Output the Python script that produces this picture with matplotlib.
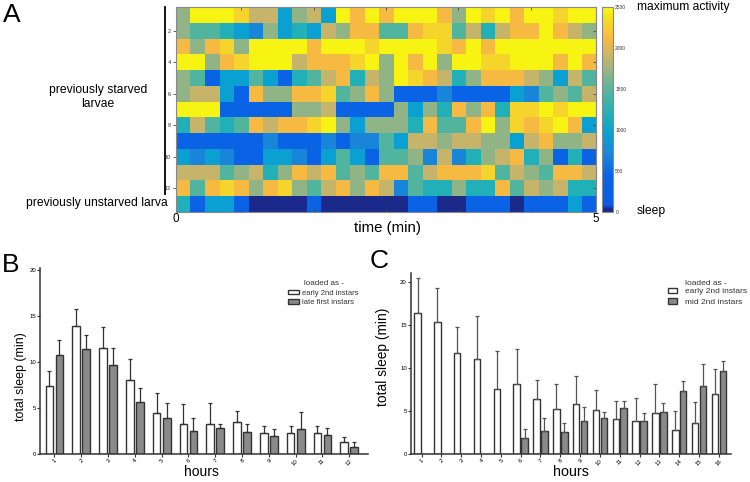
import matplotlib
matplotlib.use('Agg')
import matplotlib.pyplot as plt
import numpy as np
from matplotlib.colors import LinearSegmentedColormap
from matplotlib.patches import Patch
from matplotlib.lines import Line2D

plt.rcParams['font.family'] = ['Liberation Sans', 'DejaVu Sans']

# --- panel A: activity per time bin (13 larvae x 29 bins over 5 min)
activity = [
    [1700, 2480, 2480, 2480, 2300, 1900, 1900, 950, 1700, 1900, 950, 2480, 2100, 2480, 2100, 2480, 2480, 2480, 2100, 1700, 2480, 2300, 2480, 2100, 2480, 2480, 2300, 2480, 2480],
    [1700, 1450, 1450, 1200, 950, 700, 1700, 950, 1200, 950, 1900, 1700, 2100, 2100, 1450, 1450, 2100, 2300, 2300, 1450, 1900, 1200, 1900, 2100, 2100, 2480, 2100, 1900, 1700],
    [2100, 1700, 2100, 2300, 1700, 2480, 2480, 2480, 2480, 2100, 2480, 2480, 2480, 2300, 2480, 2480, 2480, 2480, 2300, 2100, 2480, 2100, 2480, 2480, 2480, 2480, 2480, 2480, 2480],
    [2480, 2480, 1700, 2100, 2300, 2480, 2480, 2480, 1900, 2100, 2100, 2100, 2300, 2480, 1700, 2480, 2100, 2480, 1700, 2480, 2480, 2300, 2300, 2480, 2480, 2480, 2100, 2480, 2100],
    [1700, 1450, 400, 950, 950, 1450, 950, 400, 1200, 1450, 1900, 2100, 1200, 1900, 1700, 2480, 2300, 2100, 1900, 1200, 1700, 2100, 2100, 2100, 1900, 1700, 950, 1900, 1450],
    [1700, 1900, 1900, 950, 400, 2100, 1700, 1700, 2100, 2100, 2300, 1450, 1700, 2100, 1700, 400, 400, 400, 700, 400, 400, 400, 400, 950, 700, 1450, 1700, 1450, 1900],
    [2480, 2480, 2480, 400, 400, 400, 400, 400, 1700, 1700, 1900, 400, 400, 400, 400, 1700, 950, 1700, 1200, 2100, 1700, 2100, 1200, 2300, 2300, 2480, 2300, 2480, 2480],
    [1200, 1900, 1450, 1200, 1450, 2100, 1900, 2100, 2100, 2300, 2480, 1700, 950, 1700, 1700, 1700, 1200, 2100, 1450, 1450, 2100, 2480, 1700, 2300, 2100, 2300, 2480, 2100, 950],
    [400, 400, 400, 400, 400, 400, 700, 400, 400, 400, 700, 400, 700, 700, 1450, 950, 1900, 1900, 1700, 1900, 1900, 1700, 1700, 950, 1900, 2100, 1700, 1700, 1900],
    [950, 700, 950, 700, 400, 400, 950, 950, 700, 400, 950, 1450, 950, 400, 1450, 1450, 1700, 700, 1900, 700, 1200, 1700, 1900, 2100, 1200, 1700, 400, 1200, 400],
    [1900, 1900, 1900, 1450, 1700, 1900, 1200, 1700, 2100, 1900, 2100, 1450, 1700, 1450, 2100, 2100, 1450, 1900, 2100, 2100, 2100, 2300, 1450, 1900, 1700, 1450, 2100, 2100, 1900],
    [2100, 1450, 2100, 2300, 2100, 1700, 2100, 2300, 1700, 1450, 1900, 2100, 1700, 2100, 1900, 700, 1450, 1200, 1200, 1700, 1200, 1200, 2100, 1450, 1900, 1700, 1900, 1200, 1200],
    [1200, 400, 950, 950, 400, 30, 30, 30, 30, 400, 30, 30, 30, 30, 30, 30, 400, 400, 30, 30, 400, 400, 400, 30, 400, 400, 400, 950, 400],
]
larva_ticks = [2, 4, 6, 8, 10, 12]
cbar_ticks = [0, 500, 1000, 1500, 2000, 2500]

# --- panel B: total sleep per hour (mean, upper SEM)
hours_b = list(range(1, 13))
early_b = [7.45, 13.87, 11.58, 8.06, 4.52, 3.33, 3.33, 3.55, 2.26, 2.29, 2.29, 1.33]
early_b_err = [1.62, 1.93, 2.22, 2.26, 2.11, 2.15, 2.23, 1.11, 0.79, 0.79, 0.76, 0.50]
late_b = [10.75, 11.40, 9.68, 5.66, 3.90, 2.54, 2.80, 2.37, 1.97, 2.69, 2.08, 0.82]
late_b_err = [1.62, 1.54, 1.82, 1.54, 1.69, 1.36, 0.53, 0.89, 0.72, 1.90, 0.79, 0.54]

# --- panel C
hours_c = list(range(1, 17))
early_c = [16.47, 15.39, 11.74, 11.05, 7.64, 8.18, 6.40, 5.31, 5.81, 5.16, 4.07, 3.91, 4.77, 2.83, 3.60, 7.05]
early_c_err = [4.03, 3.95, 3.10, 5.03, 4.41, 4.03, 2.24, 2.83, 3.30, 2.32, 2.13, 2.68, 3.37, 2.21, 2.52, 2.91]
mid_c = [np.nan] * 5 + [1.94, 2.75, 2.64, 3.88, 4.22, 5.35, 3.91, 4.96, 7.33, 7.91, 9.65]
mid_c_err = [np.nan] * 5 + [1.04, 1.44, 1.04, 1.66, 0.66, 0.85, 0.86, 1.05, 1.24, 2.56, 1.24]

W, H = 750, 482


def fx(px):
    return px / W


def fy(py):
    return 1 - py / H


parula_ish = LinearSegmentedColormap.from_list('parula_ish', [
    (0.0, '#1b2a8a'), (0.015, '#1b2a8a'), (0.03, '#0a5be4'), (0.18, '#0a64e6'),
    (0.28, '#1a86d8'), (0.38, '#0aa0d2'), (0.48, '#22b0b8'), (0.58, '#50b4a0'),
    (0.68, '#90b488'), (0.76, '#c6b46c'), (0.84, '#f7b842'), (0.92, '#f5d42c'),
    (1.0, '#f8f812')])

fig = plt.figure(figsize=(7.5, 4.82), dpi=100)

# ---------------- A
axA = fig.add_axes([fx(176), fy(212), 420 / W, 205 / H])
im = axA.imshow(np.array(activity), cmap=parula_ish, vmin=0, vmax=2500,
                aspect='auto', interpolation='nearest')
axA.set_xticks([4, 9, 14, 19, 24])
axA.tick_params(axis='x', direction='in', top=True, bottom=True,
                labelbottom=False, length=2.5, width=0.6, color='#444444')
axA.set_yticks([t - 1 for t in larva_ticks])
axA.set_yticklabels(larva_ticks)
axA.tick_params(axis='y', direction='out', length=2, width=0.6, labelsize=4,
                pad=1.5, color='#444444', labelcolor='#333333')
sec = axA.secondary_yaxis('right')
sec.set_ticks([t - 1 for t in larva_ticks])
sec.tick_params(axis='y', direction='in', length=2.5, width=0.6,
                labelright=False, color='#444444')
sec.spines['right'].set_color('#888888')
for s in axA.spines.values():
    s.set_color('#888888')
    s.set_linewidth(0.8)

cax = fig.add_axes([fx(602), fy(212), 10.5 / W, 205 / H])
cb = fig.colorbar(im, cax=cax, ticks=cbar_ticks)
cb.ax.tick_params(length=0, labelsize=3.5, pad=2, labelcolor='#333333')
cb.outline.set_edgecolor('#888888')
cb.outline.set_linewidth(0.8)

fig.text(fx(637), fy(7), 'maximum activity', fontsize=8.7, va='center', ha='left')
fig.text(fx(637), fy(211), 'sleep', fontsize=8.7, va='center', ha='left')
fig.text(fx(176), fy(219), '0', fontsize=8.4, va='center', ha='center')
fig.text(fx(596), fy(219), '5', fontsize=8.4, va='center', ha='center')
fig.text(fx(388), fy(228), 'time (min)', fontsize=10.8, va='center', ha='center')
fig.text(fx(98), fy(97), 'previously starved\nlarvae', fontsize=8.7,
         va='center', ha='center', linespacing=1.15)
fig.text(fx(168), fy(203), 'previously unstarved larva', fontsize=8.7,
         va='center', ha='right')
fig.add_artist(Line2D([fx(165), fx(165)], [fy(7), fy(194)],
                      color='black', lw=1.3))

fig.text(fx(3), fy(15), 'A', fontsize=19, va='center', ha='left')
fig.text(fx(2), fy(265), 'B', fontsize=19, va='center', ha='left')
fig.text(fx(370), fy(261), 'C', fontsize=19, va='center', ha='left')

edge = '#333333'
gray = '#8a8a8a'


def style_bar_axes(ax):
    for side in ['top', 'right']:
        ax.spines[side].set_visible(False)
    for side in ['left', 'bottom']:
        ax.spines[side].set_color(edge)
        ax.spines[side].set_linewidth(1.1)
    ax.tick_params(axis='both', direction='out', length=2, width=0.8,
                   color=edge, labelsize=4.3, pad=0.8)


# ---------------- B
axB = fig.add_axes([fx(40), fy(454.3), 328 / W, 186 / H])
xb = np.array(hours_b)
axB.bar(xb - 0.187, early_b, width=0.287, facecolor='white', edgecolor=edge, lw=1.0)
axB.bar(xb + 0.187, late_b, width=0.287, facecolor=gray, edgecolor=edge, lw=1.0)
axB.errorbar(xb - 0.187, early_b, yerr=[np.zeros(len(xb)), early_b_err],
             fmt='none', ecolor=edge, elinewidth=0.9, capsize=1.6, capthick=0.9)
axB.errorbar(xb + 0.187, late_b, yerr=[np.zeros(len(xb)), late_b_err],
             fmt='none', ecolor=edge, elinewidth=0.9, capsize=1.6, capthick=0.9)
axB.set_xlim(0.46, 12.70)
axB.set_ylim(0, 20.17)
axB.set_yticks([0, 5, 10, 15, 20])
axB.set_xticks(hours_b)
axB.set_xticklabels(hours_b, rotation=45, ha='right', rotation_mode='anchor')
style_bar_axes(axB)
axB.set_xlabel('hours', fontsize=10, va='center')
axB.xaxis.set_label_coords(0.493, -0.095)
axB.set_ylabel('total sleep (min)', fontsize=8.9, va='center')
axB.yaxis.set_label_coords(-0.058, 0.4156)
legB = axB.legend([Patch(facecolor='white', edgecolor=edge, lw=1.0),
                   Patch(facecolor=gray, edgecolor=edge, lw=1.0)],
                  ['early 2nd instars', 'late first instars'],
                  loc='upper left', bbox_to_anchor=(0.756, 0.886), frameon=False,
                  fontsize=5.5, handlelength=1.5, handleheight=0.6,
                  handletextpad=0.4, labelspacing=0.3, borderpad=0, borderaxespad=0)
for t in legB.get_texts():
    t.set_color('#333333')
axB.text(0.805, 0.9156, 'loaded as -', transform=axB.transAxes, fontsize=5.8,
         va='center', ha='left', color='#333333')

# ---------------- C
axC = fig.add_axes([fx(410.7), fy(454.3), 320.3 / W, 181 / H])
xc = np.array(hours_c)
axC.bar(xc - 0.2, early_c, width=0.33, facecolor='white', edgecolor=edge, lw=1.0)
axC.bar(xc + 0.2, mid_c, width=0.33, facecolor=gray, edgecolor=edge, lw=1.0)
axC.errorbar(xc - 0.2, early_c, yerr=[np.zeros(len(xc)), early_c_err],
             fmt='none', ecolor='#555555', elinewidth=0.9, capsize=1.4, capthick=0.9)
axC.errorbar(xc + 0.2, mid_c, yerr=[np.zeros(len(xc)), mid_c_err],
             fmt='none', ecolor='#555555', elinewidth=0.9, capsize=1.4, capthick=0.9)
axC.set_xlim(0.455, 16.61)
axC.set_ylim(0, 21.05)
axC.set_yticks([0, 5, 10, 15, 20])
axC.set_xticks(hours_c)
axC.set_xticklabels(hours_c, rotation=45, ha='right', rotation_mode='anchor')
style_bar_axes(axC)
axC.set_xlabel('hours', fontsize=10.3, va='center')
axC.xaxis.set_label_coords(0.5, -0.098)
axC.set_ylabel('total sleep (min)', fontsize=9.9, va='center')
axC.yaxis.set_label_coords(-0.0865, 0.5376)
legC = axC.legend([Patch(facecolor='white', edgecolor=edge, lw=1.0),
                   Patch(facecolor=gray, edgecolor=edge, lw=1.0)],
                  ['early 2nd instars', 'mid 2nd instars'],
                  loc='upper left', bbox_to_anchor=(0.803, 0.92), frameon=False,
                  fontsize=6, handlelength=1.1, handleheight=0.6,
                  handletextpad=0.9, labelspacing=0.35, borderpad=0, borderaxespad=0)
for t in legC.get_texts():
    t.set_color('#333333')
axC.text(0.856, 0.946, 'loaded as -', transform=axC.transAxes, fontsize=6,
         va='center', ha='left', color='#333333')

fig.savefig('out.png', dpi=100)
